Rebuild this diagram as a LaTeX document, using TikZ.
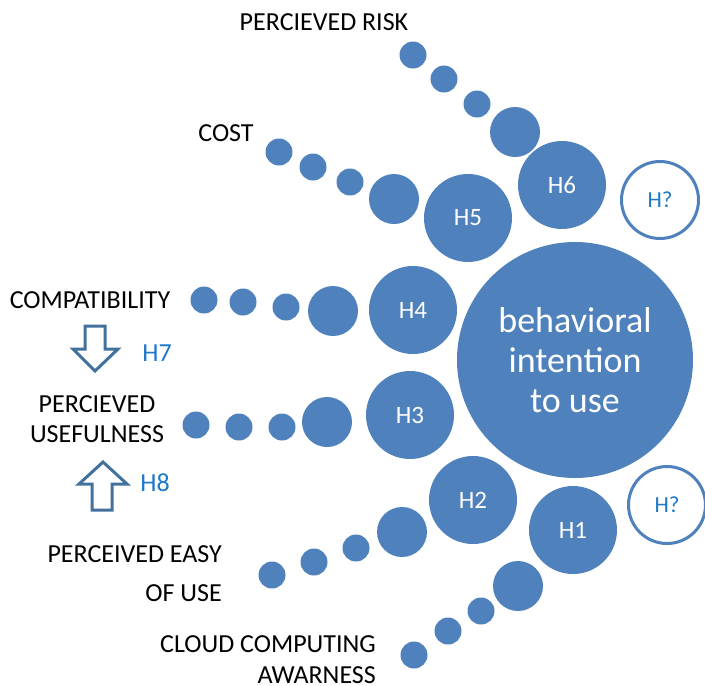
\documentclass[tikz,border=0pt]{standalone}
\usepackage{fontspec}
\setmainfont{Carlito}
\definecolor{bubble}{HTML}{4F81BD}
\definecolor{hint}{HTML}{1F78C8}
\definecolor{arrowline}{HTML}{41719C}
\begin{document}
\begin{tikzpicture}[x=1pt,y=-1pt,
  bead/.style={circle,fill=bubble,draw=none,inner sep=0pt,minimum size=#1},
  hyp/.style={circle,fill=bubble,draw=none,inner sep=0pt,minimum size=88pt,
    text=white,font=\fontsize{25}{30}\selectfont},
  openhyp/.style={circle,draw=bubble,line width=3pt,fill=white,inner sep=0pt,
    minimum size=77pt,text=hint,font=\fontsize{23}{28}\selectfont},
  factor/.style={inner sep=0pt,text=black,font=\fontsize{26}{30}\selectfont},
  hnote/.style={inner sep=0pt,text=hint,font=\fontsize{26}{30}\selectfont},
  blockarrow/.style={draw=arrowline,line width=3pt,fill=white,line join=miter}]
\useasboundingbox (0,0) rectangle (705,686);

% central construct
\node[circle,fill=bubble,inner sep=0pt,minimum size=236pt,text=white,align=center,
  font=\fontsize{36}{40}\selectfont] (bi) at (575,360)
  {behavioral\\intention\\to use};

% hypotheses
\node[hyp] (h6) at (562,185) {H6};
\node[hyp] (h5) at (468,218) {H5};
\node[hyp] (h4) at (413,310) {H4};
\node[hyp] (h3) at (410,415) {H3};
\node[hyp] (h2) at (473,500) {H2};
\node[hyp] (h1) at (573,530) {H1};
\node[openhyp] (hqa) at (660,200) {H?};
\node[openhyp] (hqb) at (667,505) {H?};

% perceived risk chain
\node[bead=27pt] (r1) at (413,55) {};
\node[bead=27pt] (r2) at (444,79) {};
\node[bead=27pt] (r3) at (477,104) {};
\node[bead=50pt] (r4) at (515,132) {};

% cost chain
\node[bead=27pt] (c1) at (279,152) {};
\node[bead=27pt] (c2) at (313,167) {};
\node[bead=27pt] (c3) at (350,182) {};
\node[bead=50pt] (c4) at (394,199) {};

% compatibility chain
\node[bead=27pt] (m1) at (204,300) {};
\node[bead=27pt] (m2) at (243,302) {};
\node[bead=27pt] (m3) at (286,307) {};
\node[bead=50pt] (m4) at (333,311) {};

% usefulness chain
\node[bead=27pt] (u1) at (196,425) {};
\node[bead=27pt] (u2) at (239,427) {};
\node[bead=27pt] (u3) at (282,427) {};
\node[bead=50pt] (u4) at (327,422) {};

% ease of use chain
\node[bead=27pt] (e1) at (272,575) {};
\node[bead=27pt] (e2) at (314,562) {};
\node[bead=27pt] (e3) at (356,548) {};
\node[bead=50pt] (e4) at (402,532) {};

% awareness chain
\node[bead=27pt] (a1) at (414,655) {};
\node[bead=27pt] (a2) at (448,631) {};
\node[bead=27pt] (a3) at (481,611) {};
\node[bead=50pt] (a4) at (518,586) {};

% factor labels
\node[factor] (risk) at (324,22) {PERCIEVED RISK};
\node[factor] (cost) at (226,133) {COST};
\node[factor] (compat) at (90,300) {COMPATIBILITY};
\node[factor,align=center,font=\fontsize{26}{30}\selectfont] (useful) at (97,419)
  {PERCIEVED\\USEFULNESS};
\node[factor,anchor=east,align=right,font=\fontsize{26}{39}\selectfont] (ease) at (222,574)
  {PERCEIVED EASY\\OF USE};
\node[factor,anchor=east,align=right,font=\fontsize{26}{31}\selectfont] (aware) at (376,660)
  {CLOUD COMPUTING\\AWARNESS};

% links between the left-hand factors
\draw[blockarrow] (85,326) -- (105,326) -- (105,349) -- (118,349) -- (95,371)
  -- (73,349) -- (85,349) -- cycle;
\node[hnote] (h7) at (157,353) {H7};
\draw[blockarrow] (92,510) -- (112,510) -- (112,484) -- (127,484) -- (103,462)
  -- (79,484) -- (92,484) -- cycle;
\node[hnote] (h8) at (155,483) {H8};
\end{tikzpicture}
\end{document}
